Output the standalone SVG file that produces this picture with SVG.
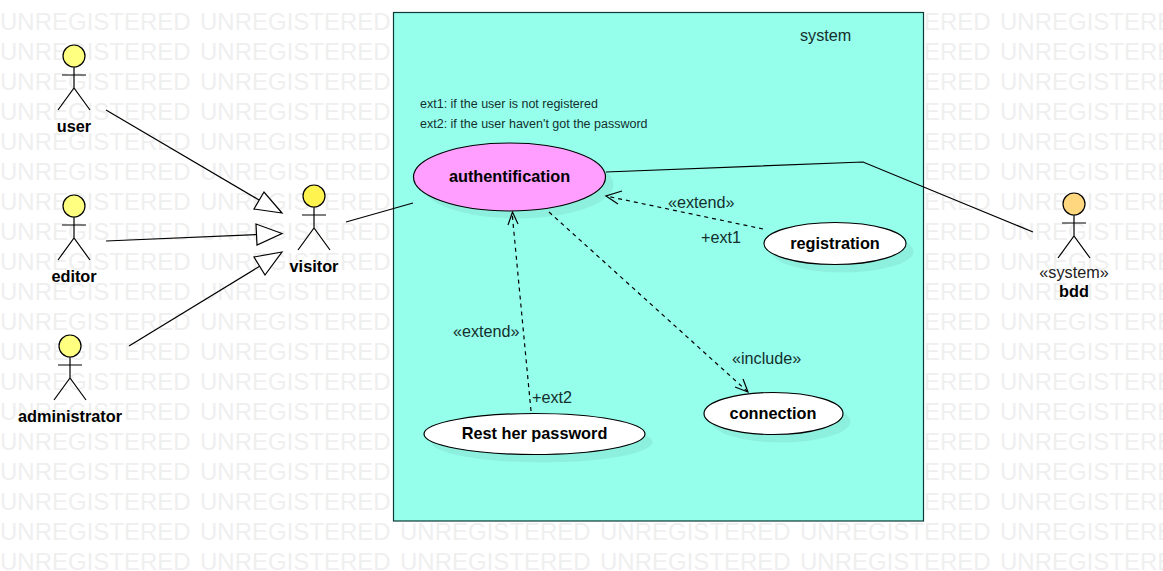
<svg xmlns="http://www.w3.org/2000/svg" xmlns:xlink="http://www.w3.org/1999/xlink" width="1163" height="571" viewBox="0 0 1163 571">
<style>
text{font-family:"Liberation Sans",Arial,sans-serif}
.wm{font-size:24px;fill:#efefef}
.b{font-size:16.3px;font-weight:bold;fill:#000;text-anchor:middle}
.l{font-size:16.2px;fill:#14302e}
.s{font-size:12.5px;fill:#14302e}
.ln{fill:none;stroke:#000;stroke-width:1.2}
.d{fill:none;stroke:#000;stroke-width:1.2;stroke-dasharray:4 4}
.tri{fill:#fff;stroke:#000;stroke-width:1.2;stroke-linejoin:miter}
.uc{stroke:#000;stroke-width:1.2}
.sh{fill:#000;fill-opacity:.06;stroke:none}
.head{stroke:#000;stroke-width:1.2}
</style>
<defs>
<g id="wmrow">
<text class="wm" x="0" y="0">UNREGISTERED</text>
<text class="wm" x="200" y="0">UNREGISTERED</text>
<text class="wm" x="400" y="0">UNREGISTERED</text>
<text class="wm" x="600" y="0">UNREGISTERED</text>
<text class="wm" x="800" y="0">UNREGISTERED</text>
<text class="wm" x="1000" y="0">UNREGISTERED</text>
</g>
<g id="stick" class="ln">
<path d="M0 11V32M-16 54L0 32L16 54M-12 19H12"/>
</g>
</defs>
<rect width="1163" height="571" fill="#fff"/>
<g id="watermark">
<use href="#wmrow" y="30"/><use href="#wmrow" y="60"/><use href="#wmrow" y="90"/><use href="#wmrow" y="120"/><use href="#wmrow" y="150"/><use href="#wmrow" y="180"/><use href="#wmrow" y="210"/><use href="#wmrow" y="240"/><use href="#wmrow" y="270"/><use href="#wmrow" y="300"/><use href="#wmrow" y="330"/><use href="#wmrow" y="360"/><use href="#wmrow" y="390"/><use href="#wmrow" y="420"/><use href="#wmrow" y="450"/><use href="#wmrow" y="480"/><use href="#wmrow" y="510"/><use href="#wmrow" y="540"/><use href="#wmrow" y="570"/>
</g>
<g id="system">
<rect x="393.5" y="12.5" width="530" height="508.5" fill="#96ffec" stroke="#0d3a38" stroke-width="1.2"/>
<text class="l" x="800" y="41">system</text>
<text class="s" x="420" y="108">ext1: if the user is not registered</text>
<text class="s" x="420" y="128">ext2: if the user haven't got the password</text>
</g>
<g id="connectors">
<path class="ln" d="M106 110L259 200"/>
<path class="tri" d="M282 213L264 192L254 209Z"/>
<path class="ln" d="M106 241L257 234.5"/>
<path class="tri" d="M282 233.5L256 224L257 245Z"/>
<path class="ln" d="M129 346L260 266"/>
<path class="tri" d="M282 252L254 257L265 275Z"/>
<path class="ln" d="M346 222L413 203"/>
<path class="ln" d="M606 172L863 162L1033 232"/>
<path class="d" d="M763 229L606 196"/>
<path class="ln" d="M622 191L606 196L618 204"/>
<path class="d" d="M531 411L512 212"/>
<path class="ln" d="M508 225L512.5 212L518 224"/>
<path class="d" d="M549 212L748 392"/>
<path class="ln" d="M735 387L748 392L743 379"/>
<text class="l" x="668" y="208">«extend»</text>
<text class="l" x="701" y="243">+ext1</text>
<text class="l" x="453" y="337">«extend»</text>
<text class="l" x="532" y="403">+ext2</text>
<text class="l" x="732" y="364">«include»</text>
</g>
<g id="auth">
<ellipse class="sh" cx="517.5" cy="184.5" rx="96" ry="34"/>
<ellipse cx="509.5" cy="177" rx="96" ry="34" fill="#ff9eff" class="uc"/>
<text class="b" x="509.5" y="182">authentification</text>
</g>
<g id="registration">
<ellipse class="sh" cx="842.5" cy="251.5" rx="71" ry="21"/>
<ellipse cx="835" cy="243.5" rx="71" ry="21" fill="#fff" class="uc"/>
<text class="b" x="835" y="249">registration</text>
</g>
<g id="reset">
<ellipse class="sh" cx="542" cy="442" rx="110.5" ry="20.5"/>
<ellipse cx="534.5" cy="434" rx="110.5" ry="20.5" fill="#fff" class="uc"/>
<text class="b" x="534.5" y="439">Rest her password</text>
</g>
<g id="connection">
<ellipse class="sh" cx="781" cy="421.5" rx="69.5" ry="21"/>
<ellipse cx="773.5" cy="413.5" rx="69.5" ry="21" fill="#fff" class="uc"/>
<text class="b" x="773" y="419">connection</text>
</g>
<g id="user">
<use href="#stick" x="74" y="56"/>
<circle class="head" cx="74" cy="56" r="11" fill="#ffff80"/>
<text class="b" x="74" y="132">user</text>
</g>
<g id="editor">
<use href="#stick" x="74" y="206"/>
<circle class="head" cx="74" cy="206" r="11" fill="#ffff80"/>
<text class="b" x="74" y="282">editor</text>
</g>
<g id="administrator">
<use href="#stick" x="70" y="346"/>
<circle class="head" cx="70" cy="346" r="11" fill="#ffff80"/>
<text class="b" x="70" y="422">administrator</text>
</g>
<g id="visitor">
<use href="#stick" x="314" y="196"/>
<circle class="head" cx="314" cy="196" r="11" fill="#fff44f"/>
<text class="b" x="314" y="272">visitor</text>
</g>
<g id="bdd">
<use href="#stick" x="1074" y="204"/>
<circle class="head" cx="1074" cy="204" r="11" fill="#ffd77f"/>
<text x="1074" y="278" style="font-size:16.2px;fill:#222;text-anchor:middle">«system»</text>
<text class="b" x="1074" y="297">bdd</text>
</g>
</svg>
